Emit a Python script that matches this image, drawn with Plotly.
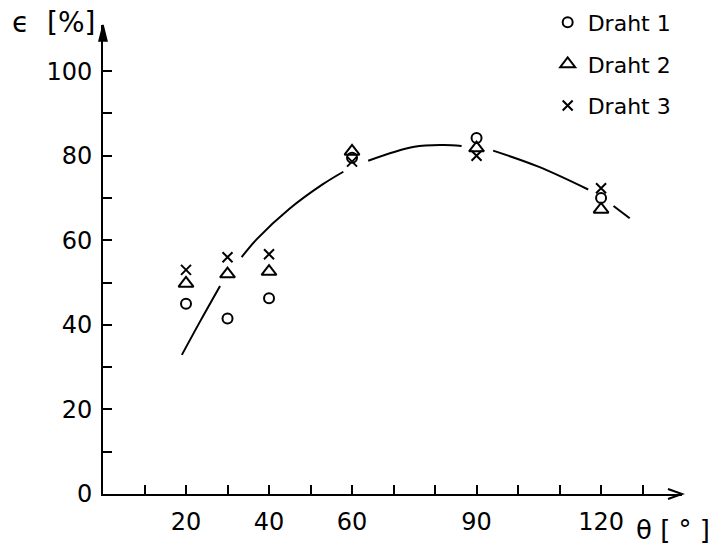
import plotly.graph_objects as go

# ---- data ----
angles = [20, 30, 40, 60, 90, 120]
draht1 = [45, 41.5, 46.3, 79.5, 84.2, 70]
draht2 = [49.8, 52, 52.6, 81, 81.8, 67.3]
draht3 = [53, 56, 56.7, 78.6, 80, 72.3]

# fitted curve as drawn (gaps where it passes the markers)
curve_x = [19, 23.5, 28.2, None, 33.4, 37, 45, 52.9, 57.9, None,
           63.9, 75, 82, 86.4, None, 94, 104.9, 116.9, None, 123, 126.9]
curve_y = [32.9, 41, 49.2, None, 56, 60.2, 67.5, 73.2, 76.2, None,
           78.8, 82.1, 82.5, 82.3, None, 81.2, 77.4, 72, None, 68.1, 65.2]

x_tickvals = [10, 20, 30, 40, 50, 60, 70, 80, 90, 100, 110, 120, 130]
x_ticktext = ["", "20", "", "40", "", "60", "", "", "90", "", "", "120", ""]
y_tickvals = [0, 10, 20, 30, 40, 50, 60, 70, 80, 90, 100]
y_ticktext = ["0", "", "20", "", "40", "", "60", "", "80", "", "100"]

x_max = 139.5
y_max = 110.9

FONT = "DejaVu Sans"

fig = go.Figure()
fig.add_trace(go.Scatter(x=curve_x, y=curve_y, mode="lines", line_shape="spline",
                         line=dict(color="black", width=2), showlegend=False,
                         connectgaps=False, hoverinfo="skip"))
series = [("Draht 1", draht1, "circle-open", 10),
          ("Draht 2", draht2, "triangle-up-open", 13),
          ("Draht 3", draht3, "x-thin-open", 10)]
for i, (name, vals, sym, sz) in enumerate(series):
    fig.add_trace(go.Scatter(x=angles, y=vals, mode="markers", name=name,
                             legendgroup=f"g{i}",
                             marker=dict(symbol=sym, size=sz, color="black",
                                         line=dict(color="black", width=2))))

fig.update_layout(
    width=716, height=552,
    margin=dict(l=103, r=34, t=25, b=58, autoexpand=False),
    plot_bgcolor="white", paper_bgcolor="white",
    font=dict(family=FONT, color="black", size=24),
    legend=dict(x=0.768, y=1.05, xanchor="left", yanchor="top",
                font=dict(size=22, family=FONT), tracegroupgap=10,
                bgcolor="rgba(0,0,0,0)", itemwidth=30),
    xaxis=dict(range=[0, x_max], showgrid=False, zeroline=False,
               showline=True, linecolor="black", linewidth=2,
               ticks="inside", ticklen=9, tickwidth=1.5, tickcolor="black",
               tickvals=x_tickvals, ticktext=x_ticktext,
               ticklabelstandoff=5, tickfont=dict(size=24)),
    yaxis=dict(range=[0, y_max], showgrid=False, zeroline=False,
               showline=True, linecolor="black", linewidth=2,
               ticks="inside", ticklen=9, tickwidth=1.5, tickcolor="black",
               tickvals=y_tickvals, ticktext=y_ticktext,
               ticklabelstandoff=4, tickfont=dict(size=24)),
    shapes=[
        dict(type="path", xref="paper", yref="paper", xsizemode="pixel", ysizemode="pixel",
             xanchor=1, yanchor=0, path="M-14,5 L0,0 L-14,-5",
             line=dict(color="black", width=2)),
        dict(type="path", xref="paper", yref="paper", xsizemode="pixel", ysizemode="pixel",
             xanchor=0, yanchor=1, path="M-4,-16 L0,0 L4,-16 Z",
             line=dict(color="black", width=1.5), fillcolor="black"),
    ],
    annotations=[
        dict(text="ϵ\u00a0\u00a0[%]", xref="paper", yref="paper", x=-0.01, y=1.005,
             xanchor="right", yanchor="middle", showarrow=False,
             font=dict(size=28, family=FONT)),
        dict(text="θ [ ° ]", xref="paper", yref="paper", x=1.052, y=-0.077,
             xanchor="right", yanchor="middle", showarrow=False,
             font=dict(size=26, family=FONT)),
    ],
)

fig.write_html("out.html", config={"displayModeBar": False},
               post_script="document.body.style.margin='0';")
